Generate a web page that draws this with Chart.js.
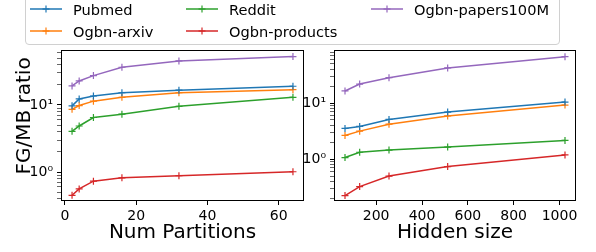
<!DOCTYPE html>
<html lang="en">
<head>
<meta charset="UTF-8">
<title>FG/MB ratio</title>
<script src="https://cdn.jsdelivr.net/npm/chart.js"></script>
<style>
  body { margin: 0; background: #fff; font-family: "DejaVu Sans", sans-serif; }
  #wrap { position: relative; width: 596px; height: 252px; overflow: hidden; }
  #leftChart { position: absolute; left: 0; top: 0; }
  #rightChart { position: absolute; left: 296px; top: 0; }
  .legend-box { position: absolute; left: 25px; top: -6px; width: 533px; height: 49px;
    border: 1px solid #d0d0d0; border-radius: 4px; background: rgba(255,255,255,0.8); }
  .legend-item { position: absolute; height: 22px; display: flex; align-items: center;
    font-size: 14.6px; color: #000; white-space: nowrap; }
  .legend-item svg { margin-right: 11px; }
</style>
</head>
<body>
<div id="wrap">
  <canvas id="leftChart" width="312" height="252"></canvas>
  <canvas id="rightChart" width="300" height="252"></canvas>
  <div class="legend-box"></div>
  <div id="legend"></div>
</div>

<script>
  // Datos
  const seriesNames = ['Pubmed', 'Ogbn-arxiv', 'Reddit', 'Ogbn-products', 'Ogbn-papers100M'];
  const seriesColors = ['#1f77b4', '#ff7f0e', '#2ca02c', '#d62728', '#9467bd'];

  // Num Partitions
  const partitions = [2, 4, 8, 16, 32, 64];
  const partPubmed = [9.7, 12.3, 13.6, 15.2, 16.6, 19.0];
  const partArxiv = [8.6, 9.8, 11.4, 13.0, 15.2, 16.9];
  const partReddit = [4.05, 4.86, 6.5, 7.3, 9.55, 13.0];
  const partProducts = [0.45, 0.56, 0.73, 0.82, 0.88, 1.01];
  const partPapers = [19.2, 22.8, 27.4, 36.5, 45.4, 52.6];
  const partTicks = [0, 20, 40, 60];

  // Hidden size
  const hiddenSizes = [64, 128, 256, 512, 1024];
  const hidPubmed = [3.53, 3.83, 5.1, 6.9, 10.4];
  const hidArxiv = [2.65, 3.16, 4.2, 5.9, 9.2];
  const hidReddit = [1.07, 1.33, 1.45, 1.64, 2.16];
  const hidProducts = [0.225, 0.325, 0.50, 0.74, 1.19];
  const hidPapers = [16.4, 21.8, 28.3, 42.2, 67];
  const hiddenTicks = [200, 400, 600, 800, 1000];

  Chart.defaults.font.family = '"DejaVu Sans", sans-serif';
  Chart.defaults.color = '#000';

  const sup = { '0': '\u2070', '1': '\u00b9', '2': '\u00b2', '-': '\u207b' };

  function logTicks(min, max) {
    const out = [];
    for (let e = Math.floor(Math.log10(min)); e <= Math.ceil(Math.log10(max)); e++) {
      for (let m = 1; m < 10; m++) {
        const v = m * Math.pow(10, e);
        if (v >= min && v <= max) out.push({ value: v, major: m === 1 });
      }
    }
    return out;
  }

  function powLabel(value) {
    const e = Math.round(Math.log10(value));
    if (Math.abs(value - Math.pow(10, e)) > 1e-9) return '';
    return '10' + String(e).split('').map(c => sup[c]).join('');
  }

  // marco completo alrededor del área del gráfico
  const framePlugin = {
    id: 'frame',
    afterDraw(chart) {
      const a = chart.chartArea, c = chart.ctx;
      c.save();
      c.strokeStyle = '#000';
      c.lineWidth = 1;
      c.strokeRect(a.left + 0.5, a.top + 0.5, a.right - a.left - 1, a.bottom - a.top - 1);
      c.restore();
    }
  };

  function makeDatasets(xs, lists) {
    return lists.map((ys, i) => ({
      label: seriesNames[i],
      data: xs.map((x, j) => ({ x: x, y: ys[j] })),
      borderColor: seriesColors[i],
      backgroundColor: seriesColors[i],
      borderWidth: 1.5,
      pointStyle: 'cross',
      pointRadius: 3.5,
      pointBorderWidth: 1.2,
      tension: 0
    }));
  }

  function makeChart(id, xs, lists, xOpt, yOpt, pad) {
    new Chart(document.getElementById(id), {
      type: 'line',
      data: { datasets: makeDatasets(xs, lists) },
      plugins: [framePlugin],
      options: {
        responsive: false,
        animation: false,
        layout: { padding: pad },
        plugins: { legend: { display: false }, tooltip: { enabled: false } },
        scales: {
          x: {
            type: 'linear',
            min: xOpt.min,
            max: xOpt.max,
            afterBuildTicks: s => { s.ticks = xOpt.ticks.map(v => ({ value: v })); },
            afterFit: s => { s.height = 51; },
            border: { display: false },
            grid: { drawOnChartArea: false, tickLength: 4, tickColor: '#000' },
            ticks: { font: { size: 14 }, padding: 3, maxRotation: 0, autoSkip: false, callback: v => String(v) },
            title: { display: true, text: xOpt.title, font: { size: 20 }, padding: { top: 0, bottom: 7 } }
          },
          y: {
            type: 'logarithmic',
            min: yOpt.min,
            max: yOpt.max,
            afterBuildTicks: s => { s.ticks = logTicks(yOpt.min, yOpt.max); },
            afterFit: s => { s.width = yOpt.width; },
            border: { display: false },
            grid: {
              drawOnChartArea: false, tickLength: 4, tickColor: '#000',
              tickWidth: ctx => (ctx.tick && ctx.tick.major ? 1 : 0.6)
            },
            ticks: { font: { size: 14 }, padding: 4, autoSkip: false, callback: v => powLabel(v) },
            title: { display: !!yOpt.title, text: yOpt.title, font: { size: 20 }, padding: { top: 13, bottom: 0 } }
          }
        }
      }
    });
  }

  makeChart('leftChart', partitions,
    [partPubmed, partArxiv, partReddit, partProducts, partPapers],
    { min: -1.1, max: 67.1, ticks: partTicks, title: 'Num Partitions' },
    { min: 0.37, max: 66, width: 61, title: '   FG/MB ratio' },
    { top: 50, right: 8, left: 0, bottom: 0 });

  makeChart('rightChart', hiddenSizes,
    [hidPubmed, hidArxiv, hidReddit, hidProducts, hidPapers],
    { min: 16, max: 1072, ticks: hiddenTicks, title: 'Hidden size' },
    { min: 0.18, max: 88, width: 38, title: '' },
    { top: 50, right: 20, left: 0, bottom: 0 });

  // Leyenda (3 columnas, orden por columnas)
  const legendCols = [30, 186, 371];
  const legendRows = [9, 31];
  const legend = document.getElementById('legend');
  seriesNames.forEach((name, i) => {
    const col = Math.floor(i / 2), row = i % 2;
    const item = document.createElement('div');
    item.className = 'legend-item';
    item.style.left = legendCols[col] + 'px';
    item.style.top = (legendRows[row] - 11) + 'px';
    const c = seriesColors[i];
    item.innerHTML =
      '<svg width="32" height="10"><line x1="0" y1="5" x2="32" y2="5" stroke="' + c + '" stroke-width="1.5"/>' +
      '<line x1="12.5" y1="5" x2="19.5" y2="5" stroke="' + c + '" stroke-width="1.2"/>' +
      '<line x1="16" y1="1.5" x2="16" y2="8.5" stroke="' + c + '" stroke-width="1.2"/></svg>' +
      '<span>' + name + '</span>';
    legend.appendChild(item);
  });
</script>
</body>
</html>
